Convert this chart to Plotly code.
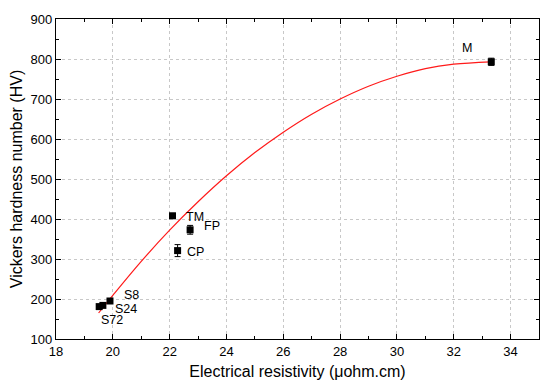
import plotly.graph_objects as go

# Data points
names = ["S72", "S24", "S8", "TM", "CP", "FP", "M"]
resistivity = [19.52, 19.65, 19.9, 22.1, 22.28, 22.72, 33.32]
hardness = [181, 184, 195, 408, 321, 373, 793]
hardness_err = [4, 4, 5, 6, 15, 11, 9]

# Label positions (data coordinates)
label_x = [19.97, 20.45, 20.64, 22.89, 22.92, 23.49, 32.45]
label_y = [147, 176, 211, 406, 317, 382, 827]

# Fitted curve
fit_x = [19.5, 20, 21, 22, 23, 24, 25, 26, 27, 28, 29, 30, 31, 32, 33.3]
fit_y = [165, 209, 294, 372, 443, 508, 566, 617, 662, 700, 732, 757, 776, 787, 793]

x_ticks = [18, 20, 22, 24, 26, 28, 30, 32, 34]
y_ticks = [100, 200, 300, 400, 500, 600, 700, 800, 900]

FONT = "Liberation Sans, Arial"

fig = go.Figure()
fig.add_trace(go.Scatter(x=fit_x, y=fit_y, mode="lines",
                         line=dict(color="#ff1a1a", width=1.2, shape="spline"),
                         showlegend=False, hoverinfo="skip"))
fig.add_trace(go.Scatter(x=resistivity, y=hardness, mode="markers",
                         marker=dict(symbol="square", size=7, color="black"),
                         error_y=dict(type="data", array=hardness_err, color="black",
                                      thickness=1, width=3),
                         showlegend=False))

for t, lx, ly in zip(names, label_x, label_y):
    fig.add_annotation(x=lx, y=ly, text=t, showarrow=False,
                       font=dict(size=12.5, color="black", family=FONT))

axis_common = dict(showline=True, linecolor="black", linewidth=1.2, mirror="ticks",
                   ticks="inside", ticklen=5, tickcolor="black", tickwidth=1,
                   showgrid=True, gridcolor="#c8c8c8", griddash="dot", gridwidth=1,
                   zeroline=False, automargin=False,
                   tickfont=dict(size=13, color="black", family=FONT))

fig.update_xaxes(range=[18, 35], tickvals=x_ticks, ticktext=[str(v) for v in x_ticks],
                 minor=dict(ticks="inside", ticklen=3, dtick=1, tickcolor="black", showgrid=False),
                 title=dict(text="Electrical resistivity (μohm.cm)", standoff=8,
                            font=dict(size=16, color="black", family=FONT)),
                 **axis_common)
fig.update_yaxes(range=[100, 900], tickvals=y_ticks, ticktext=[str(v) for v in y_ticks],
                 minor=dict(ticks="inside", ticklen=3, dtick=50, tickcolor="black", showgrid=False),
                 title=dict(text="Vickers hardness number (HV)", standoff=6,
                            font=dict(size=16, color="black", family=FONT)),
                 **axis_common)

# page body has an 8px margin; compensate so the plot sits where it does in the reference
fig.update_layout(width=542, height=372, margin=dict(l=48, r=11, t=11, b=41),
                  plot_bgcolor="white", paper_bgcolor="white")

fig.write_html("out.html")
